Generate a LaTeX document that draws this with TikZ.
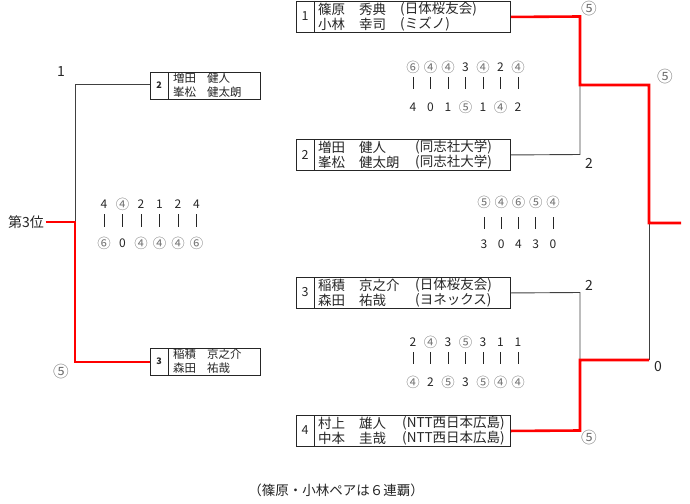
\documentclass[tikz,border=0pt]{standalone}
\usepackage{fontspec}
\setmainfont{Noto Sans CJK JP}
\newcommand\cn[1]{\textcolor{black!55}{\scalebox{1.12}{#1}}}
\begin{document}
\begin{tikzpicture}[x=1pt,y=-1pt,
  gline/.style={draw=black!75, line width=0.9pt},
  rline/.style={draw=red, line width=2.6pt},
  bigbox/.style={draw=black!85, line width=0.9pt, rectangle, minimum width=214pt, minimum height=31pt, anchor=north west, inner sep=0pt},
  smallbox/.style={draw=black!85, line width=0.9pt, rectangle, minimum width=110pt, minimum height=27pt, anchor=north west, inner sep=0pt},
  nm/.style={font=\fontsize{13.5}{14}\selectfont, text=black!85, anchor=west, inner sep=0pt},
  snm/.style={font=\fontsize{11.5}{12}\selectfont, text=black!85, anchor=west, inner sep=0pt},
  num/.style={font=\fontsize{12.5}{14}\selectfont, text=black!85, inner sep=0pt},
  snum/.style={font=\fontsize{9}{10}\selectfont\bfseries, text=black!85, inner sep=0pt},
  sc/.style={font=\fontsize{12}{13}\selectfont, text=black!85, inner sep=0pt},
  lab/.style={font=\fontsize{14}{15}\selectfont, text=black!85, inner sep=0pt},
  bar/.style={draw=black!85, line width=0.8pt}
]
\useasboundingbox (0,0) rectangle (690,503);

% ---------- right boxes ----------
\node[bigbox] (box1) at (296,1) {};
\node[bigbox] (box2) at (296,139) {};
\node[bigbox] (box3) at (296,277) {};
\node[bigbox] (box4) at (296,415) {};
\foreach \b in {box1,box2,box3,box4}
  \draw[draw=black!85, line width=0.9pt] ([xshift=18pt]\b.north west) -- ([xshift=18pt]\b.south west);

\node[num] (n1) at (305,16.5) {1};
\node[num] (n2) at (305,154.5) {2};
\node[num] (n3) at (305,292.5) {3};
\node[num] (n4) at (305,430.5) {4};

\node[nm] (a1) at (318,9) {篠原};
\node[nm] (a2) at (359,9) {秀典};
\node[nm] (a3) at (400,9) {(日体桜友会)};
\node[nm] (a4) at (318,24) {小林};
\node[nm] (a5) at (359,24) {幸司};
\node[nm] (a6) at (400,24) {(ミズノ)};

\node[nm] (b1) at (318,147) {増田};
\node[nm] (b2) at (359,147) {健人};
\node[nm] (b3) at (415,147) {(同志社大学)};
\node[nm] (b4) at (318,162) {峯松};
\node[nm] (b5) at (359,162) {健太朗};
\node[nm] (b6) at (415,162) {(同志社大学)};

\node[nm] (c1) at (318,285) {稲積};
\node[nm] (c2) at (359,285) {京之介};
\node[nm] (c3) at (415,285) {(日体桜友会)};
\node[nm] (c4) at (318,300) {森田};
\node[nm] (c5) at (359,300) {祐哉};
\node[nm] (c6) at (415,300) {(ヨネックス)};

\node[nm] (d1) at (318,423) {村上};
\node[nm] (d2) at (359,423) {雄人};
\node[nm] (d3) at (402,423) {(NTT西日本広島)};
\node[nm] (d4) at (318,438) {中本};
\node[nm] (d5) at (359,438) {圭哉};
\node[nm] (d6) at (402,438) {(NTT西日本広島)};

% ---------- right bracket ----------
\coordinate (r1) at (580,16.5);
\coordinate (r2) at (580,154.5);
\coordinate (j1) at (580,85);
\coordinate (r3) at (580,292.5);
\coordinate (r4) at (580,430.5);
\coordinate (j2) at (580,360);
\coordinate (k1) at (649,85);
\coordinate (k2) at (649,360);
\coordinate (j3) at (649,223);
\coordinate (fin) at (681,223);

\draw[gline] (box2.east) -- (r2) -- (j1);
\draw[gline] (box3.east) -- (r3) -- (j2);
\draw[gline] (k2) -- (j3);
\draw[rline] (box1.east) -- (r1) -- (j1) -- (k1) -- (j3) -- (fin);
\draw[rline] (box4.east) -- (r4) -- (j2) -- (k2);

\node[lab] (l1) at (589,9) {\cn{⑤}};
\node[lab] (l2) at (665,77) {\cn{⑤}};
\node[lab] (l3) at (589,163) {2};
\node[lab] (l4) at (589,285) {2};
\node[lab] (l5) at (658,367) {0};
\node[lab] (l6) at (589,438) {\cn{⑤}};

% ---------- scores right ----------
\foreach \t [count=\i from 0] in {\cn{⑥},\cn{④},\cn{④},3,\cn{④},2,\cn{④}}
  \node[sc] (ta\i) at (413+17.5*\i,67) {\t};
\foreach \t [count=\i from 0] in {4,0,1,\cn{⑤},1,\cn{④},2}
  \node[sc] (tb\i) at (413+17.5*\i,107) {\t};
\foreach \i in {0,...,6}
  \draw[bar] (413+17.5*\i,77) -- ++(0,12);

\foreach \t [count=\i from 0] in {\cn{⑤},\cn{④},\cn{⑥},\cn{⑤},\cn{④}}
  \node[sc] (ma\i) at (484+17.25*\i,202) {\t};
\foreach \t [count=\i from 0] in {3,0,4,3,0}
  \node[sc] (mb\i) at (484+17.25*\i,244) {\t};
\foreach \i in {0,...,4}
  \draw[bar] (484+17.25*\i,217) -- ++(0,12);

\foreach \t [count=\i from 0] in {2,\cn{④},3,\cn{⑤},3,1,1}
  \node[sc] (ba\i) at (413+17.5*\i,342) {\t};
\foreach \t [count=\i from 0] in {\cn{④},2,\cn{⑤},3,\cn{⑤},\cn{④},\cn{④}}
  \node[sc] (bb\i) at (413+17.5*\i,382) {\t};
\foreach \i in {0,...,6}
  \draw[bar] (413+17.5*\i,352) -- ++(0,12);

% ---------- left (3rd place) ----------
\node[smallbox] (sb2) at (150,72) {};
\node[smallbox] (sb3) at (150,348) {};
\foreach \b in {sb2,sb3}
  \draw[draw=black!85, line width=0.9pt] ([xshift=18pt]\b.north west) -- ([xshift=18pt]\b.south west);
\node[snum] (sn2) at (159,85.5) {2};
\node[snum] (sn3) at (159,361.5) {3};
\node[snm] (e1) at (173,78.5) {増田};
\node[snm] (e2) at (207,78.5) {健人};
\node[snm] (e3) at (173,92.5) {峯松};
\node[snm] (e4) at (207,92.5) {健太朗};
\node[snm] (f1) at (173,354.5) {稲積};
\node[snm] (f2) at (207,354.5) {京之介};
\node[snm] (f3) at (173,368.5) {森田};
\node[snm] (f4) at (207,368.5) {祐哉};

\node[lab, anchor=east] (third) at (44,222) {第3位};
\coordinate (q1) at (75,84);
\coordinate (q2) at (75,222);
\coordinate (q3) at (75,362);
\draw[gline] (sb2.west |- q1) -- (q1) -- (q2);
\draw[rline] (third.east) ++(1.5,0) -- (q2) -- (q3) -- (sb3.west |- q3);

\node[lab] (m1) at (61,72) {1};
\node[lab] (m2) at (61,372) {\cn{⑤}};

\foreach \t [count=\i from 0] in {4,\cn{④},2,1,2,4}
  \node[sc] (la\i) at (104+18.5*\i,204) {\t};
\foreach \t [count=\i from 0] in {\cn{⑥},0,\cn{④},\cn{④},\cn{④},\cn{⑥}}
  \node[sc] (lb\i) at (104+18.5*\i,243) {\t};
\foreach \i in {0,...,5}
  \draw[bar] (104+18.5*\i,214) -- ++(0,13);

% ---------- footnote ----------
\node[font=\fontsize{13.5}{14}\selectfont, text=black!85, inner sep=0pt] (note) at (336,490) {（篠原・小林ペアは６連覇）};
\end{tikzpicture}
\end{document}
